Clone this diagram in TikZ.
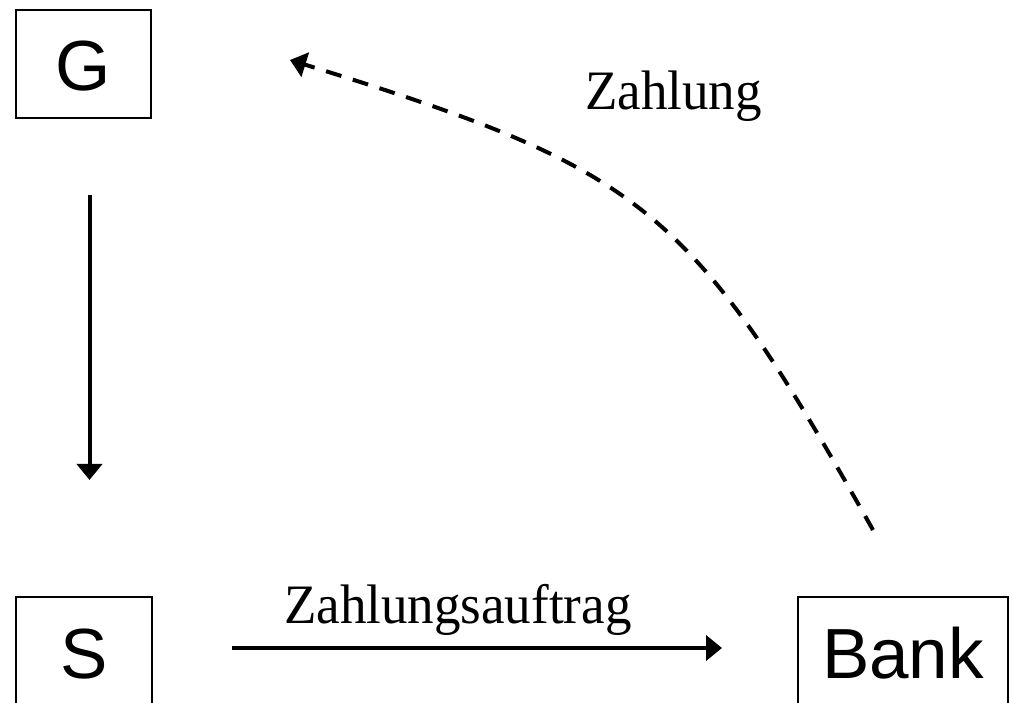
\documentclass[tikz,border=0pt]{standalone}
\usepackage{fontspec}
\setmainfont{Liberation Serif}
\newfontfamily\arialfont{Liberation Sans}
\usetikzlibrary{arrows.meta}
\begin{document}
\begin{tikzpicture}[x=1pt,y=-1pt,
  box/.style={draw, line width=2pt, rectangle, inner sep=0pt, font=\arialfont\fontsize{71}{85}\selectfont},
  lbl/.style={font=\fontsize{53}{63}\selectfont, anchor=base west, inner sep=0pt, yscale=1.05, transform shape},
  flow/.style={line width=4pt, -{Triangle[width=25pt,length=16pt]}},
  dashflow/.style={flow, dash pattern=on 16pt off 12pt}]
\useasboundingbox (0,0) rectangle (1013,703);
\begin{scope}
\clip (0,0) rectangle (1013,703);
\node[box, minimum width=135pt, minimum height=108pt, text height=54pt, text depth=0pt] (G) at (83.5,64) {G};
\node[box, minimum width=136pt, minimum height=163pt, text height=30pt, text depth=30pt] (S) at (84,678.5) {S};
\node[box, minimum width=210pt, minimum height=163pt, text height=30pt, text depth=30pt] (B) at (903,678.5) {Bank};
\end{scope}
\coordinate (g1) at (89.5,195);
\coordinate (s1) at (89.5,480);
\coordinate (s2) at (232,648);
\coordinate (b1) at (722,648);
\coordinate (b2) at (873,530);
\coordinate (g2) at (290,60);
\draw[flow] (g1) -- (s1);
\draw[flow] (s2) -- (b1);
\draw[dashflow] (b2) .. controls (690,205) and (645,170) .. (g2);
\node[lbl] (zl) at (585,110) {Zahlung};
\node[lbl] (za) at (284,623) {Zahlungsauftrag};
\end{tikzpicture}
\end{document}
